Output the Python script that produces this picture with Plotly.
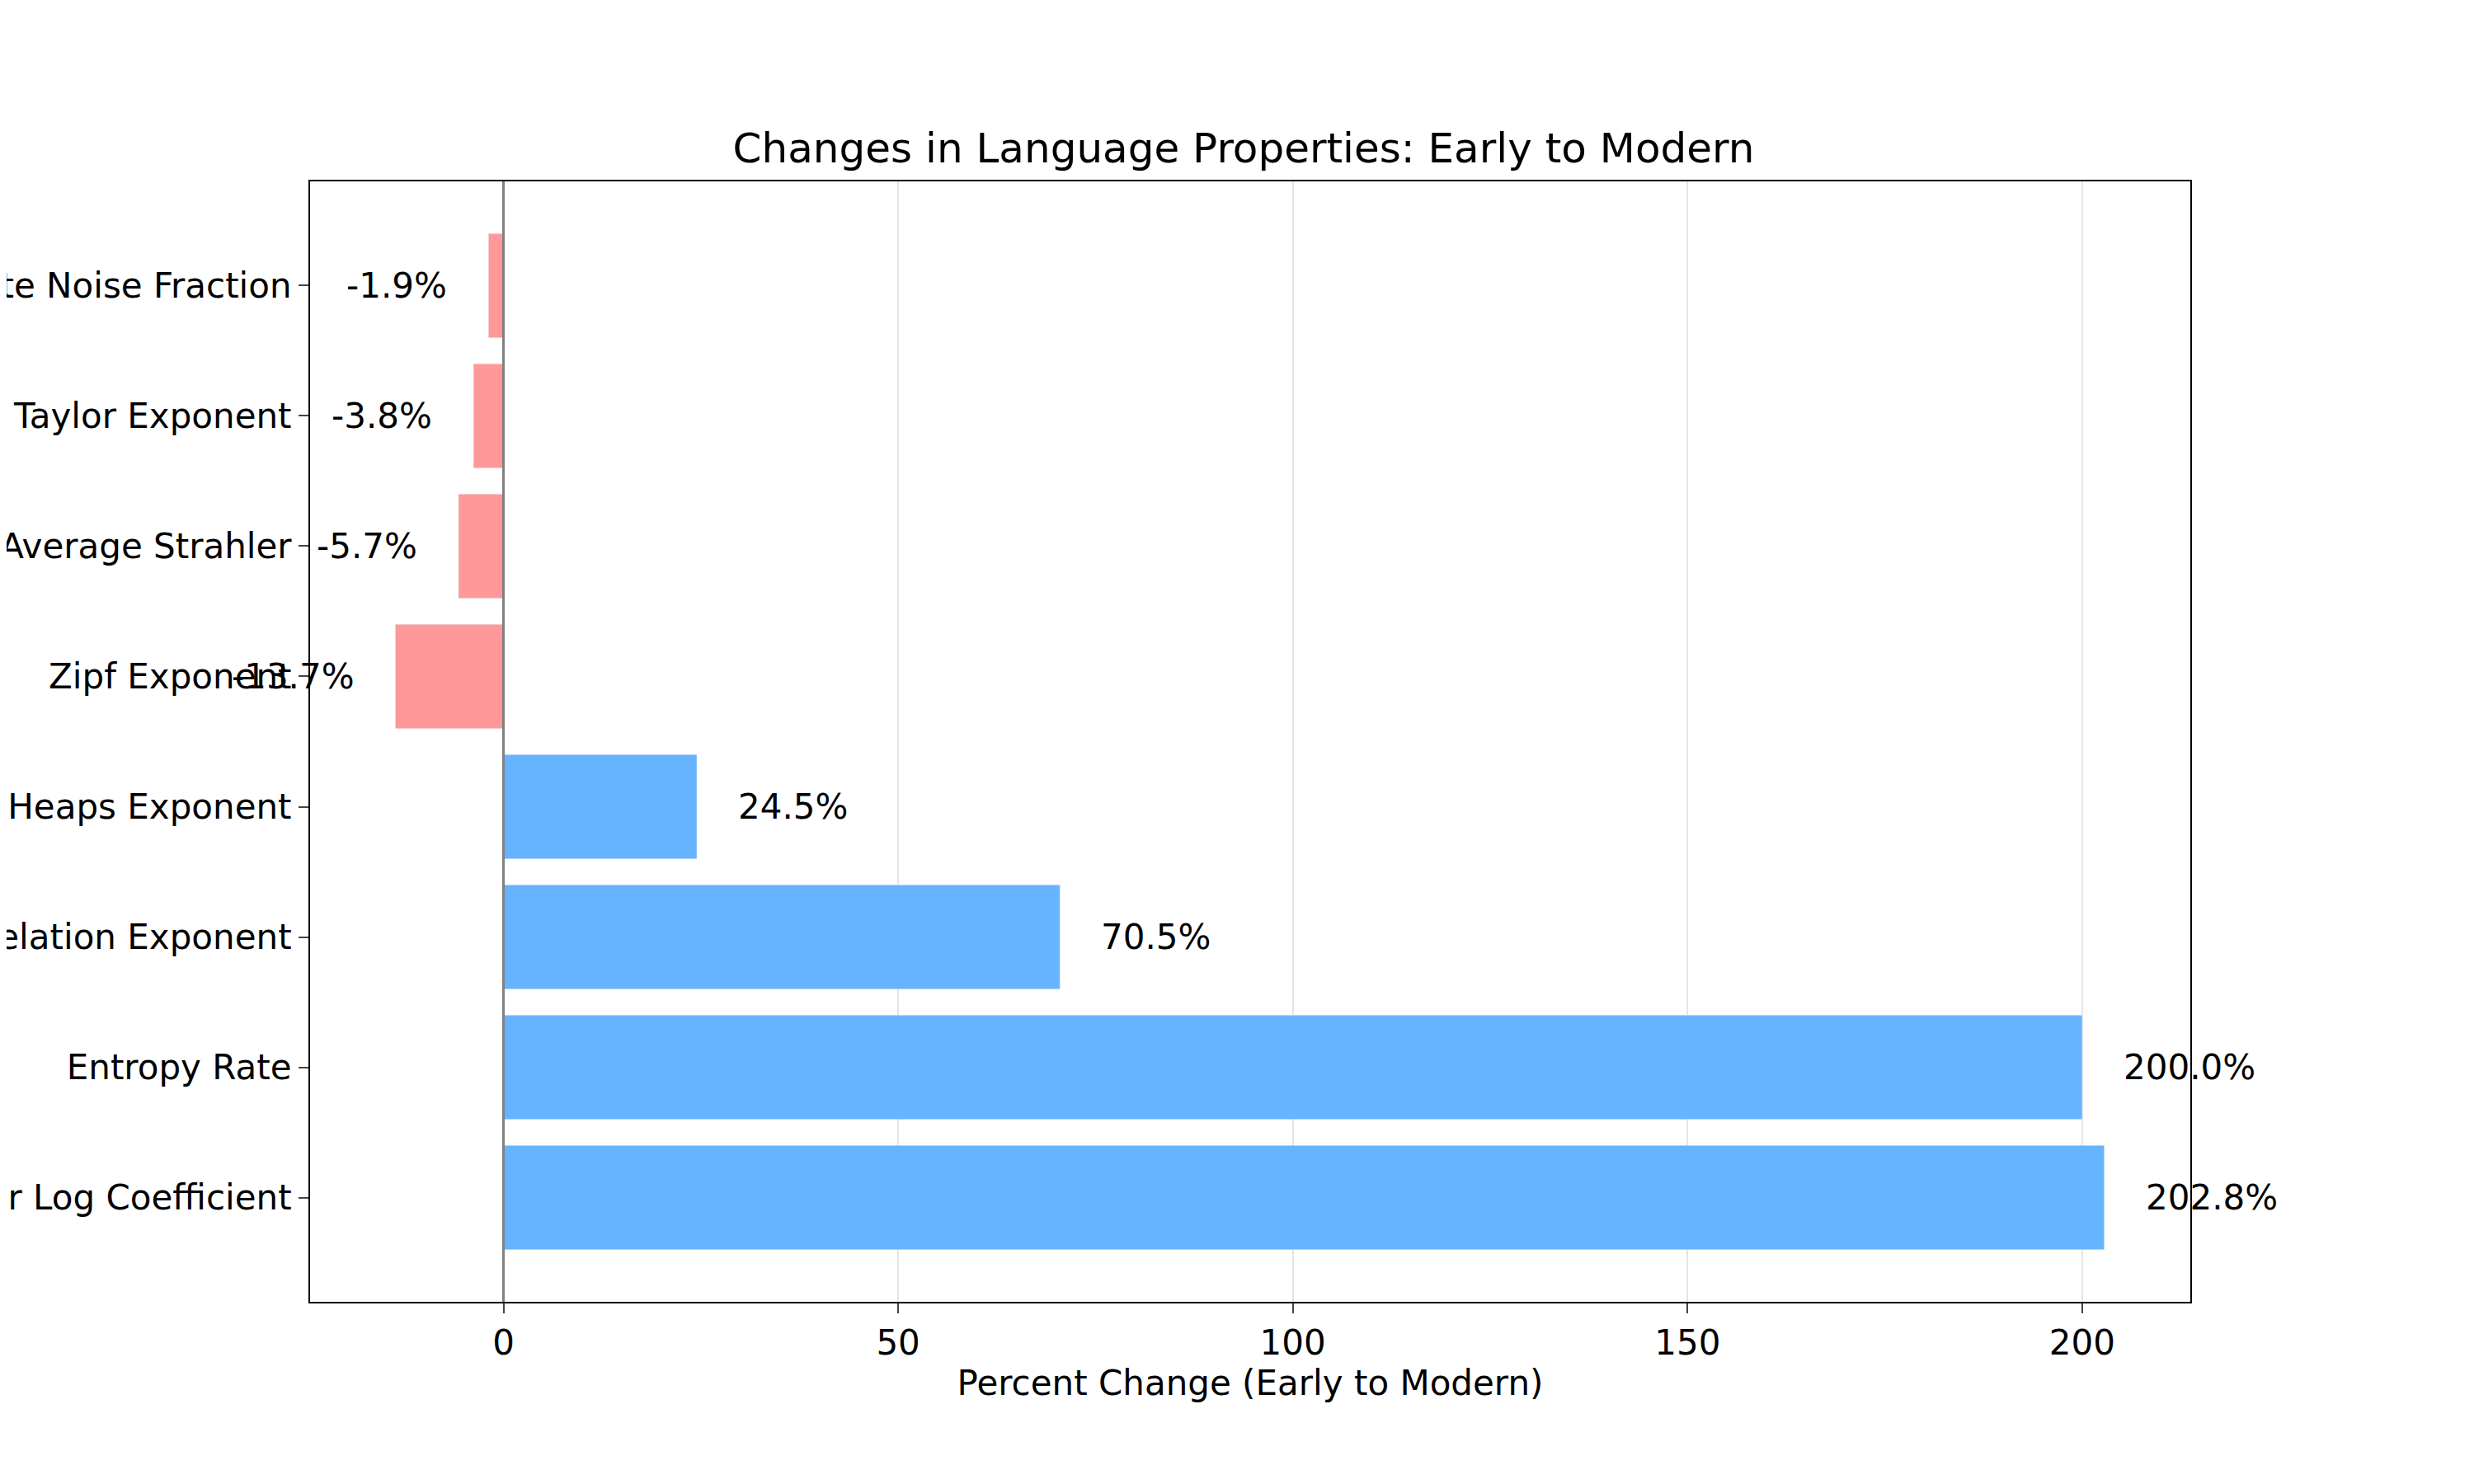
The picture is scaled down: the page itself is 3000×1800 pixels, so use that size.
import plotly.graph_objects as go

# Властивості мови та відсоткова зміна (знизу вгору)
properties = ["Bigram Power Log Coefficient", "Entropy Rate", "Long-Range Correlation Exponent",
              "Heaps Exponent", "Zipf Exponent", "Average Strahler", "Taylor Exponent",
              "White Noise Fraction"]
pct_change = [202.8, 200.0, 70.5, 24.5, -13.7, -5.7, -3.8, -1.9]

colors = ["#66b3ff" if v > 0 else "#ff9999" for v in pct_change]

fig = go.Figure(go.Bar(x=pct_change, y=properties, orientation="h",
                       marker_color=colors, width=0.8))

# Підписи значень
for name, v in zip(properties, pct_change):
    fig.add_annotation(x=v + 5 if v > 0 else v - 5, y=name, text=f"{v:.1f}%",
                       showarrow=False, xanchor="left" if v > 0 else "right",
                       font=dict(size=42, color="black"))

fig.add_vline(x=0, line_color="grey", line_width=3)

fig.update_layout(
    width=3000, height=1800,
    plot_bgcolor="white", paper_bgcolor="white",
    font=dict(family="DejaVu Sans", size=42, color="black"),
    title=dict(text="Changes in Language Properties: Early to Modern", x=0.5, xanchor="center",
               y=0.905, yanchor="middle", font=dict(size=50)),
    margin=dict(l=368, r=352, t=212, b=229),
    showlegend=False,
    xaxis=dict(range=[-24.5, 213.7], tickvals=[0, 50, 100, 150, 200],
               showgrid=True, gridcolor="#e5e5e5", gridwidth=2, zeroline=False,
               showline=True, mirror=True, linecolor="black", linewidth=2,
               ticks="outside", ticklen=12, tickwidth=2,
               title=dict(text="Percent Change (Early to Modern)", font=dict(size=42), standoff=10)),
    yaxis=dict(range=[-0.8, 7.8], automargin=False, showgrid=False, zeroline=False,
               showline=True, mirror=True, linecolor="black", linewidth=2,
               ticks="outside", ticklen=12, tickwidth=2),
)

fig.write_html("out.html")
